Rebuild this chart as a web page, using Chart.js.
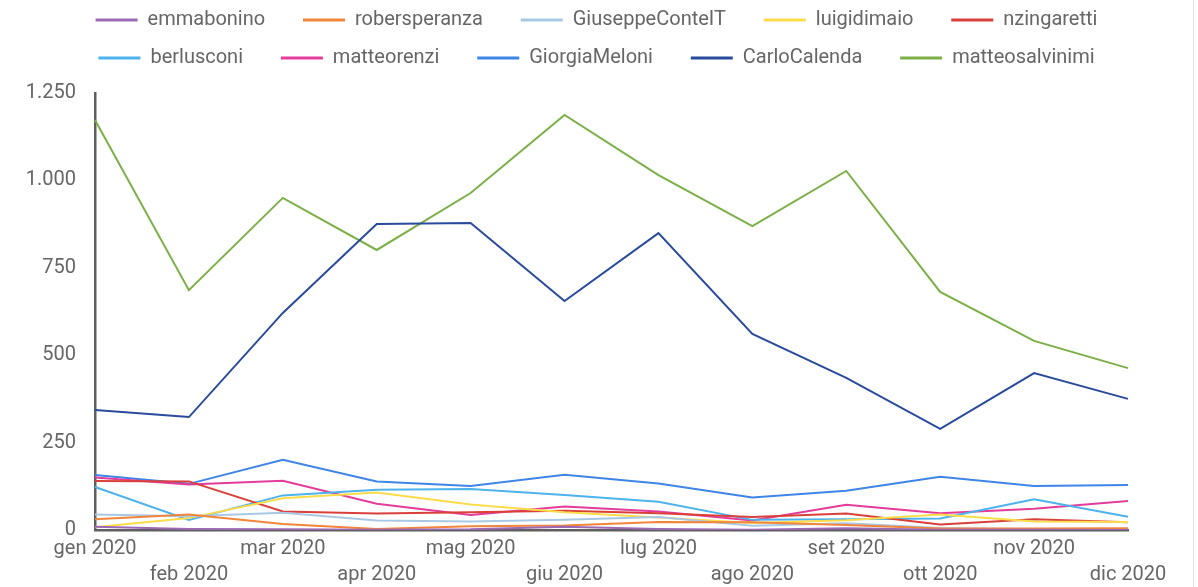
<!DOCTYPE html>
<html>
<head>
<meta charset="utf-8">
<script src="https://cdn.jsdelivr.net/npm/chart.js@4"></script>
<style>
  html, body { margin: 0; padding: 0; background: #fff; overflow: hidden; }
  #wrap { position: relative; width: 1193px; height: 587px; border-right: 1px solid #e3e3e3; overflow: hidden; }
  #chart { position: absolute; left: 0; top: -8px; }
</style>
</head>
<body>
<div id="wrap"><canvas id="chart" width="1193" height="602"></canvas></div>
<script>
const months = ['gen 2020', 'feb 2020', 'mar 2020', 'apr 2020', 'mag 2020', 'giu 2020',
  'lug 2020', 'ago 2020', 'set 2020', 'ott 2020', 'nov 2020', 'dic 2020'];

const emmabonino      = [9, 3, 2, 1, 2, 9, 3, 1, 5, 1, 1, 0];
const robersperanza   = [31, 44, 17, 3, 11, 13, 23, 22, 14, 4, 4, 5];
const GiuseppeConteIT = [44, 39, 49, 27, 24, 29, 37, 12, 19, 6, 2, 2];
const luigidimaio     = [8, 34, 91, 107, 73, 51, 36, 20, 28, 44, 24, 23];
const nzingaretti     = [140, 139, 53, 47, 51, 55, 48, 37, 47, 16, 31, 22];
const berlusconi      = [123, 29, 99, 115, 117, 100, 81, 29, 31, 33, 88, 38];
const matteorenzi     = [150, 130, 141, 75, 43, 67, 53, 27, 72, 48, 61, 83];
const GiorgiaMeloni   = [157, 132, 201, 139, 126, 158, 133, 93, 112, 152, 126, 129];
const CarloCalenda    = [343, 323, 621, 875, 878, 655, 849, 561, 435, 289, 449, 375];
const matteosalvinimi = [1173, 686, 950, 801, 964, 1187, 1015, 869, 1027, 681, 541, 463];

const yTicks = [0, 250, 500, 750, 1000, 1250];

const series = [
  ['emmabonino', emmabonino, '#9c6ab5'],
  ['robersperanza', robersperanza, '#f2853c'],
  ['GiuseppeConteIT', GiuseppeConteIT, '#a9c8e3'],
  ['luigidimaio', luigidimaio, '#fbdc4a'],
  ['nzingaretti', nzingaretti, '#d9403a'],
  ['berlusconi', berlusconi, '#4db3ec'],
  ['matteorenzi', matteorenzi, '#e33c9b'],
  ['GiorgiaMeloni', GiorgiaMeloni, '#3f85e8'],
  ['CarloCalenda', CarloCalenda, '#2a4a9c'],
  ['matteosalvinimi', matteosalvinimi, '#7caf46']
];

const textColor = '#666666';
const axisColor = '#5f5f5f';

// legend gets a bit more room below it
const legendSpace = {
  id: 'legendSpace',
  beforeInit(chart) {
    const fit = chart.legend.fit;
    chart.legend.fit = function () {
      fit.bind(chart.legend)();
      this.height += 15;
    };
  }
};

new Chart(document.getElementById('chart'), {
  type: 'line',
  data: {
    labels: months,
    datasets: series.map(([label, data, color]) => ({
      label,
      data,
      borderColor: color,
      backgroundColor: color,
      borderWidth: 2,
      pointRadius: 0,
      tension: 0,
      fill: false
    }))
  },
  options: {
    responsive: false,
    animation: false,
    devicePixelRatio: 1,
    layout: { padding: 0 },
    plugins: {
      tooltip: { enabled: false },
      legend: {
        position: 'top',
        labels: {
          color: textColor,
          font: { family: 'Roboto', size: 20 },
          usePointStyle: true,
          pointStyle: 'line',
          pointStyleWidth: 42,
          padding: 18,
          generateLabels(chart) {
            const items = Chart.defaults.plugins.legend.labels.generateLabels(chart);
            items.forEach((it, i) => {
              it.lineWidth = 3;
              it.pointStyle = 'line';
              // wider gap between items on the same row
              if (i % 5 !== 4) it.text += '\u00a0\u00a0\u00a0\u00a0';
            });
            return items;
          }
        }
      }
    },
    scales: {
      x: {
        grid: { display: false, drawTicks: false },
        border: { display: true, color: axisColor, width: 2.5 },
        ticks: {
          autoSkip: false,
          maxRotation: 0,
          minRotation: 0,
          padding: 6,
          color: textColor,
          font: { family: 'Roboto', size: 20, lineHeight: 1.3 },
          callback: (v, i) => (i % 2 ? ['', months[i]] : months[i])
        }
      },
      y: {
        min: 0,
        max: 1250,
        afterBuildTicks(axis) { axis.ticks = yTicks.map(v => ({ value: v })); },
        afterFit(axis) { axis.width = 95; },
        grid: { display: false, drawTicks: false },
        border: { display: true, color: axisColor, width: 2.5 },
        ticks: {
          padding: 19,
          color: textColor,
          font: { family: 'Roboto', size: 20 },
          callback: v => v.toLocaleString('en-US').replace(/,/g, '.')
        }
      },
      yRight: {
        position: 'right',
        grid: { display: false, drawTicks: false },
        border: { display: false },
        ticks: { display: false },
        afterFit(axis) { axis.width = 65; }
      }
    }
  },
  plugins: [legendSpace]
});
</script>
</body>
</html>
